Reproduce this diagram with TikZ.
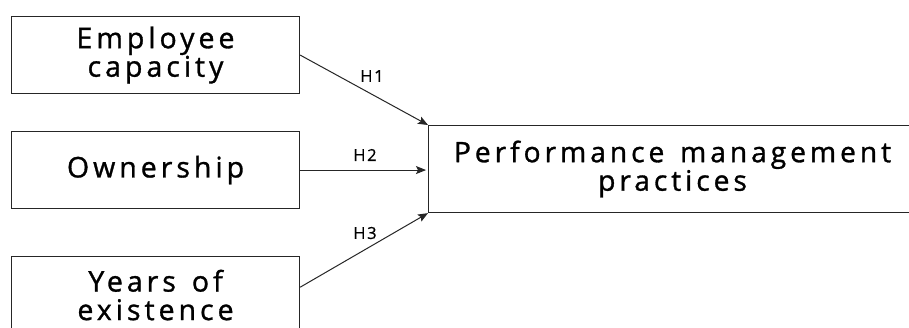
\documentclass[tikz,border=0pt]{standalone}
\usepackage{fontspec}
\setmainfont{Open Sans}[LetterSpace=14,WordSpace=1.4,FakeBold=1.1]
\newfontfamily\labfont{Open Sans}[LetterSpace=10,FakeBold=0.7]
\usetikzlibrary{arrows.meta,calc}
\begin{document}
\begin{tikzpicture}[x=1pt,y=-1pt,
  varbox/.style={draw=black!85,line width=1.1pt,minimum width=288pt,minimum height=77pt,inner sep=0pt,align=center,
    font=\fontsize{28.5}{28}\selectfont,anchor=north west},
  outbox/.style={draw=black!85,line width=1.1pt,minimum width=488pt,minimum height=87pt,inner sep=0pt,align=center,
    font=\fontsize{28.2}{28}\selectfont,anchor=north west},
  link/.style={draw=black!85,line width=1pt,-{Stealth[length=10pt,width=8pt,inset=2pt]}},
  hlab/.style={font=\labfont\fontsize{16.5}{16}\selectfont,inner sep=0pt}]
\useasboundingbox (0,0) rectangle (909,327);
\clip (0,0) rectangle (909,327);
\fill[white] (0,0) rectangle (909,327);
\node[varbox] (b1) at (11,16) {Employee\\[0.5pt]capacity};
\node[varbox] (b2) at (11,131) {\raisebox{1.5pt}{Ownership}};
\node[varbox] (b3) at (11,256) {Years of\\[0.5pt]existence};
\node[outbox] (out) at (428,125) {Performance management\\[0.5pt]practices};
\coordinate (s3) at ($(b3.north east)!0.4!(b3.south east)$);
\coordinate (e2) at ($(out.west)+(-2,1)$);
\draw[link] (b1.east) -- (out.north west);
\draw[link] (b2.east) -- (e2);
\draw[link] (s3) -- (out.south west);
\node[hlab] (h1) at (372,76) {H1};
\node[hlab] (h2) at (365,155) {H2};
\node[hlab] (h3) at (365,233) {H3};
\end{tikzpicture}
\end{document}
